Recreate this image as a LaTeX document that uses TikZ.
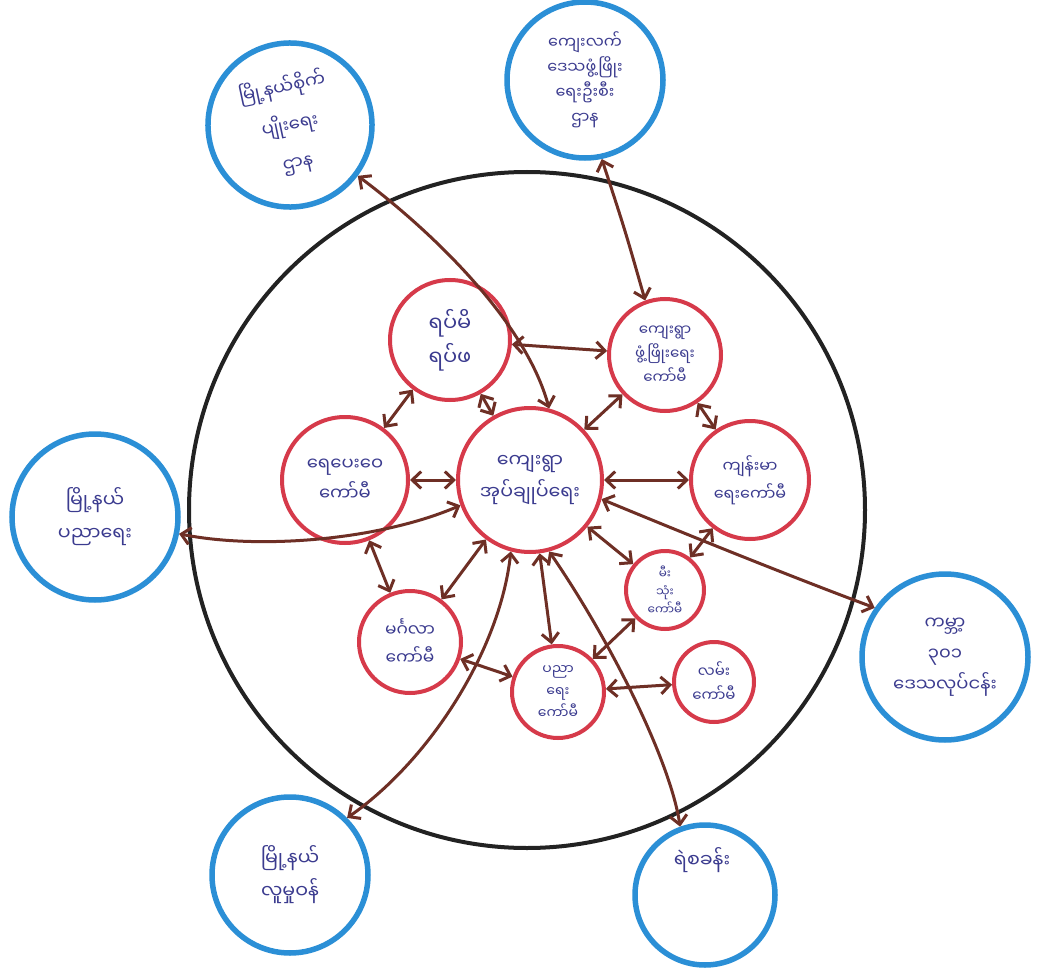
\documentclass[tikz,border=0pt]{standalone}
\usepackage{fontspec}
\usetikzlibrary{arrows.meta}
\newfontfamily\mya[Script=Myanmar]{Noto Sans Myanmar UI}
\definecolor{bl}{HTML}{2B8FD6}
\definecolor{rd}{HTML}{D63A4A}
\definecolor{br}{HTML}{6E2F25}
\definecolor{tx}{HTML}{3B3B8F}
\definecolor{bk}{HTML}{222222}
\begin{document}
\begin{tikzpicture}[x=1pt,y=-1pt,
  outer/.style={circle, draw=bl, line width=5.5pt, inner sep=0pt, align=center, text=tx,
    font=\mya\fontsize{19}{33}\selectfont},
  inner/.style={circle, draw=rd, line width=4pt, inner sep=0pt, align=center, text=tx,
    font=\mya\fontsize{18}{30}\selectfont},
  txt/.style={align=center, text=tx, font=\mya\fontsize{19}{30}\selectfont, inner sep=0pt},
  con/.style={draw=br, line width=3pt,
    {Straight Barb[length=9pt,width=17pt]}-{Straight Barb[length=9pt,width=17pt]}}
]
\useasboundingbox (0,0) rectangle (1045,971);
\fill[white] (0,0) rectangle (1045,971);

% big black circle
\node[circle, draw=bk, line width=4pt, minimum size=676pt, inner sep=0pt] (big) at (527,510) {};

% outer blue circles
\node[outer, minimum size=164pt, rotate=12, font=\mya\fontsize{18}{38}\selectfont] (TL) at (290,125) {မြို့နယ်စိုက်\\ပျိုးရေး\\ဌာန};
\node[outer, minimum size=156pt, font=\mya\fontsize{16}{25}\selectfont] (TP) at (585,80) {ကျေးလက်\\ဒေသဖွံ့ဖြိုး\\ရေးဦးစီး\\ဌာန};
\node[outer, minimum size=166pt] (L) at (95,517) {မြို့နယ်\\ပညာရေး};
\node[outer, minimum size=166pt, font=\mya\fontsize{18}{31}\selectfont] (R) at (945,657) {ကမ္ဘာ့\\၃၀၁\\ဒေသလုပ်ငန်း};
\node[outer, minimum size=156pt] (BL) at (290,875) {မြို့နယ်\\လူမှုဝန်};
\node[outer, minimum size=140pt] (BR) at (705,895) {};
\node[txt] (BRt) at (702,860) {ရဲစခန်း};

% inner red circles
\node[inner, minimum size=120pt, font=\mya\fontsize{21}{34}\selectfont] (A) at (450,340) {ရပ်မိ\\ရပ်ဖ};
\node[inner, minimum size=112pt, font=\mya\fontsize{15}{24}\selectfont] (B) at (665,355) {ကျေးရွာ\\ဖွံ့ဖြိုးရေး\\ကော်မီ};
\node[inner, minimum size=126pt] (C) at (345,480) {ရေပေးဝေ\\ကော်မီ};
\node[inner, minimum size=144pt, font=\mya\fontsize{19}{32}\selectfont] (D) at (530,480) {ကျေးရွာ\\အုပ်ချုပ်ရေး};
\node[inner, minimum size=118pt, font=\mya\fontsize{16}{28}\selectfont] (E) at (750,480) {ကျန်းမာ\\ရေးကော်မီ};
\node[inner, minimum size=78pt, font=\mya\fontsize{12}{18}\selectfont] (F) at (665,590) {မီး\\သုံး\\ကော်မီ};
\node[inner, minimum size=102pt, font=\mya\fontsize{17}{28}\selectfont] (G) at (410,642) {မင်္ဂလာ\\ကော်မီ};
\node[inner, minimum size=92pt, font=\mya\fontsize{14}{22}\selectfont] (H) at (558,692) {ပညာ\\ရေး\\ကော်မီ};
\node[inner, minimum size=80pt, font=\mya\fontsize{15}{24}\selectfont] (I) at (714,682) {လမ်း\\ကော်မီ};

% short connectors
\draw[con] (A) -- (B);
\draw[con] (A) -- (C);
\draw[con] (A) -- (D);
\draw[con] (B) -- (D);
\draw[con] (B) -- (E);
\draw[con] (C) -- (D);
\draw[con] (D) -- (E);
\draw[con] (C) -- (G);
\draw[con] (D) -- (G);
\draw[con] (D) -- (F);
\draw[con] (E) -- (F);
\draw[con] (D) -- (H);
\draw[con] (F) -- (H);
\draw[con] (G) -- (H);
\draw[con] (H) -- (I);

% long connectors
\draw[con] (D.75) .. controls (525,320) and (430,230) .. (TL);
\draw[con] (B.110) .. controls (625,230) .. (TP.-78);
\draw[con] (D.200) .. controls (380,540) and (260,550) .. (L);
\draw[con] (D.-15) .. controls (700,540) and (800,580) .. (R.145);
\draw[con] (D.255) .. controls (500,650) and (430,760) .. (BL.45);
\draw[con] (D.-75) .. controls (610,640) and (670,760) .. (BR.110);
\end{tikzpicture}
\end{document}
